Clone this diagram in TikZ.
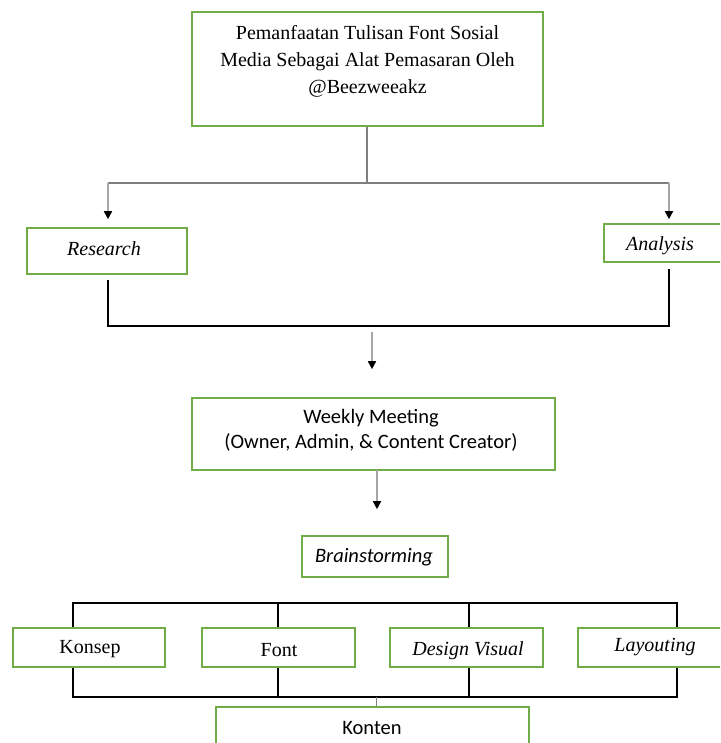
\documentclass[tikz,border=0pt]{standalone}
\usepackage{fontspec}
\setmainfont{Liberation Serif}
\newfontfamily\calfont{Carlito}
\usetikzlibrary{arrows.meta}
\definecolor{boxgreen}{HTML}{70AD47}
\definecolor{lgray}{HTML}{A6A6A6}
\definecolor{mgray}{HTML}{7F7F7F}
\tikzset{
  box/.style={draw=boxgreen, line width=1.6pt, inner sep=0pt},
  txt/.style={inner sep=0pt, align=center},
  serif/.style={font=\fontsize{20}{27}\selectfont},
  sans/.style={font=\calfont\fontsize{20.5}{25}\selectfont},
  joinline/.style={draw=black, line width=1.3pt},
  arrtip/.style={-{Triangle[color=black,width=8pt,length=8pt]}},
}
\begin{document}
\begin{tikzpicture}[x=1pt,y=-1pt]
\clip (0,0) rectangle (720,743);
\fill[white] (0,0) rectangle (720,743);
% top box
\node[box, minimum width=351pt, minimum height=114pt] (top) at (367.5,69) {};
\node[txt, serif] (toptxt) at (367.5,61) {Pemanfaatan Tulisan Font Sosial\\Media Sebagai Alat Pemasaran Oleh\\@Beezweeakz};
% research / analysis
\node[box, minimum width=160pt, minimum height=46pt] (res) at (107,251) {};
\node[txt, serif] (restxt) at (104,249) {\itshape Research};
\node[box, minimum width=130pt, minimum height=38pt] (ana) at (669,243) {};
\node[txt, serif] (anatxt) at (660,246) {\itshape Analysis};
% weekly
\node[box, minimum width=363pt, minimum height=72pt] (week) at (373.5,434) {};
\node[txt, sans] (weektxt) at (371,430) {Weekly Meeting\\(Owner, Admin, \& Content Creator)};
% brainstorming
\node[box, minimum width=146pt, minimum height=41pt] (brain) at (375,556.5) {};
\node[txt, sans] (braintxt) at (374,557) {\itshape Brainstorming};
% four boxes
\node[box, minimum width=152pt, minimum height=39pt] (kon) at (89,647.5) {};
\node[txt, serif] (kontxt) at (90,649) {Konsep};
\node[box, minimum width=153pt, minimum height=39pt] (fnt) at (278.5,647.5) {};
\node[txt, serif] (fnttxt) at (279,650) {Font};
\node[box, minimum width=153pt, minimum height=39pt] (dv) at (466.5,647.5) {};
\node[txt, serif] (dvtxt) at (468,651) {\itshape Design Visual};
\node[box, minimum width=160pt, minimum height=39pt] (lay) at (658,647.5) {};
\node[txt, serif] (laytxt) at (655,647) {\itshape Layouting};
% konten
\node[box, minimum width=313pt, minimum height=60pt] (konten) at (372.5,737) {};
\node[txt, sans] (kontentxt) at (372,728) {Konten};
% connectors top
\coordinate (t1) at (367,183);
\coordinate (tl) at (108,183);
\coordinate (tr) at (669,183);
\draw[draw=mgray, line width=2pt] (top.south -| t1) -- (t1);
\draw[draw=mgray, line width=2pt] (tl) -- (tr);
\draw[draw=lgray, line width=1.6pt, arrtip, shorten >=8pt] (tl) -- (tl |- res.north);
\draw[draw=lgray, line width=1.6pt, arrtip, shorten >=4pt] (tr) -- (tr |- ana.north);
% research/analysis join
\coordinate (jl) at (108,326);
\coordinate (jr) at (669,326);
\draw[joinline] ([yshift=-5pt]jl |- res.south) -- (jl) -- (jr) -- ([yshift=-6pt]jr |- ana.south);
\coordinate (a1) at (372,332);
\draw[draw=lgray, line width=1.6pt, arrtip, shorten >=28pt] (a1) -- (a1 |- week.north);
\coordinate (a2) at (377,470);
\draw[draw=lgray, line width=1.6pt, arrtip, shorten >=26pt] (a2) -- (a2 |- brain.north);
% bottom tree
\coordinate (bl) at (73,603);
\coordinate (br) at (677,603);
\coordinate (bm1) at (278,603);
\coordinate (bm2) at (469,603);
\draw[joinline] (bl |- kon.north) -- (bl) -- (br) -- (br |- lay.north);
\draw[joinline] (bm1) -- (bm1 |- fnt.north);
\draw[joinline] (bm2) -- (bm2 |- dv.north);
\coordinate (cl) at (73,697);
\coordinate (cr) at (677,697);
\coordinate (cm1) at (278,697);
\coordinate (cm2) at (469,697);
\coordinate (ck) at (376,697);
\draw[joinline] (cl |- kon.south) -- (cl) -- (cr) -- (cr |- lay.south);
\draw[joinline] (cm1 |- fnt.south) -- (cm1);
\draw[joinline] (cm2 |- dv.south) -- (cm2);
\draw[draw=mgray, line width=0.8pt] (ck) -- (ck |- konten.north);
\end{tikzpicture}
\end{document}
